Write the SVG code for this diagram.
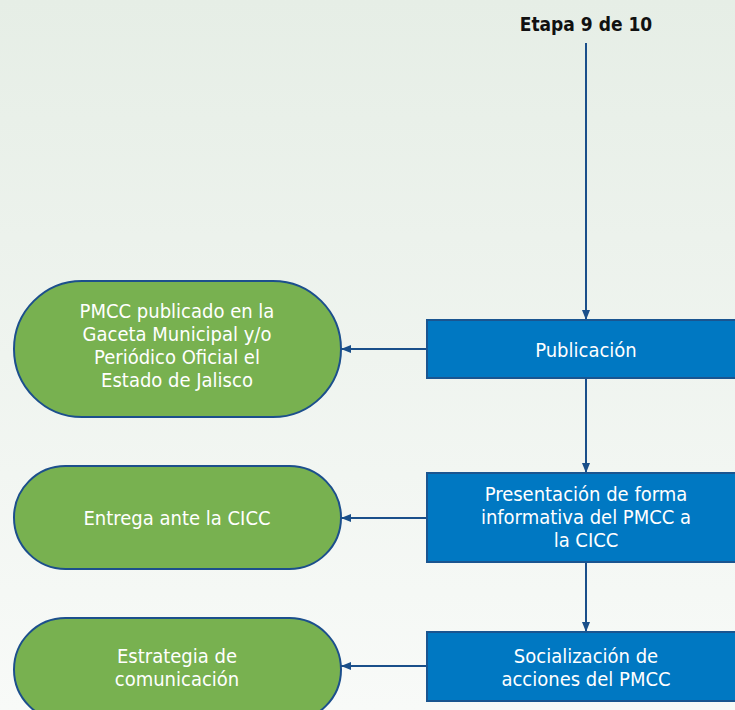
<svg xmlns="http://www.w3.org/2000/svg" width="735" height="710" viewBox="0 0 735 710">
<defs>
<linearGradient id="bg" x1="0" y1="0" x2="0" y2="1">
<stop offset="0" stop-color="#e6eee6"/>
<stop offset="1" stop-color="#f8faf8"/>
</linearGradient>
<marker id="arr" viewBox="0 0 10 10" refX="10" refY="5" markerWidth="10" markerHeight="10" markerUnits="userSpaceOnUse" orient="auto">
<path d="M0,1 L10,5 L0,9 z" fill="#1a4f8a"/>
</marker>
<style>
.pill{fill:#78b150;stroke:#1c4f8c;stroke-width:2}
.box{fill:#0078c2;stroke:#1a5590;stroke-width:2}
.t{font-family:"DejaVu Sans Condensed","DejaVu Sans",sans-serif;font-size:20px;fill:#ffffff;text-anchor:middle}
.title{font-family:"DejaVu Sans Condensed","DejaVu Sans",sans-serif;font-size:19px;font-weight:bold;fill:#111111;text-anchor:middle}
.c{stroke:#1a4f8a;stroke-width:2;fill:none;marker-end:url(#arr)}
</style>
</defs>
<rect x="0" y="0" width="735" height="710" fill="url(#bg)"/>
<text class="title" x="586" y="31">Etapa 9 de 10</text>
<g id="connectors">
<line class="c" x1="586" y1="43" x2="586" y2="320"/>
<line class="c" x1="586" y1="378" x2="586" y2="473"/>
<line class="c" x1="586" y1="562" x2="586" y2="632"/>
<line class="c" x1="427" y1="349" x2="341" y2="349"/>
<line class="c" x1="427" y1="518" x2="341" y2="518"/>
<line class="c" x1="427" y1="666" x2="341" y2="666"/>
</g>
<g id="publicacion">
<rect class="box" x="427" y="320" width="320" height="58"/>
<text class="t" x="586" y="357">Publicación</text>
</g>
<g id="presentacion">
<rect class="box" x="427" y="473" width="320" height="89"/>
<text class="t" x="586" y="501">Presentación de forma</text>
<text class="t" x="586" y="524">informativa del PMCC a</text>
<text class="t" x="586" y="547">la CICC</text>
</g>
<g id="socializacion">
<rect class="box" x="427" y="632" width="320" height="69"/>
<text class="t" x="586" y="663">Socialización de</text>
<text class="t" x="586" y="686">acciones del PMCC</text>
</g>
<g id="pmcc-publicado">
<rect class="pill" x="14" y="281" width="327" height="136" rx="68" ry="68"/>
<text class="t" x="177" y="318">PMCC publicado en la</text>
<text class="t" x="177" y="341">Gaceta Municipal y/o</text>
<text class="t" x="177" y="364">Periódico Oficial el</text>
<text class="t" x="177" y="387">Estado de Jalisco</text>
</g>
<g id="entrega">
<rect class="pill" x="14" y="466" width="327" height="103" rx="51.5" ry="51.5"/>
<text class="t" x="177" y="525">Entrega ante la CICC</text>
</g>
<g id="estrategia">
<rect class="pill" x="14" y="618" width="327" height="103" rx="51.5" ry="51.5"/>
<text class="t" x="177" y="663">Estrategia de</text>
<text class="t" x="177" y="686">comunicación</text>
</g>
</svg>
